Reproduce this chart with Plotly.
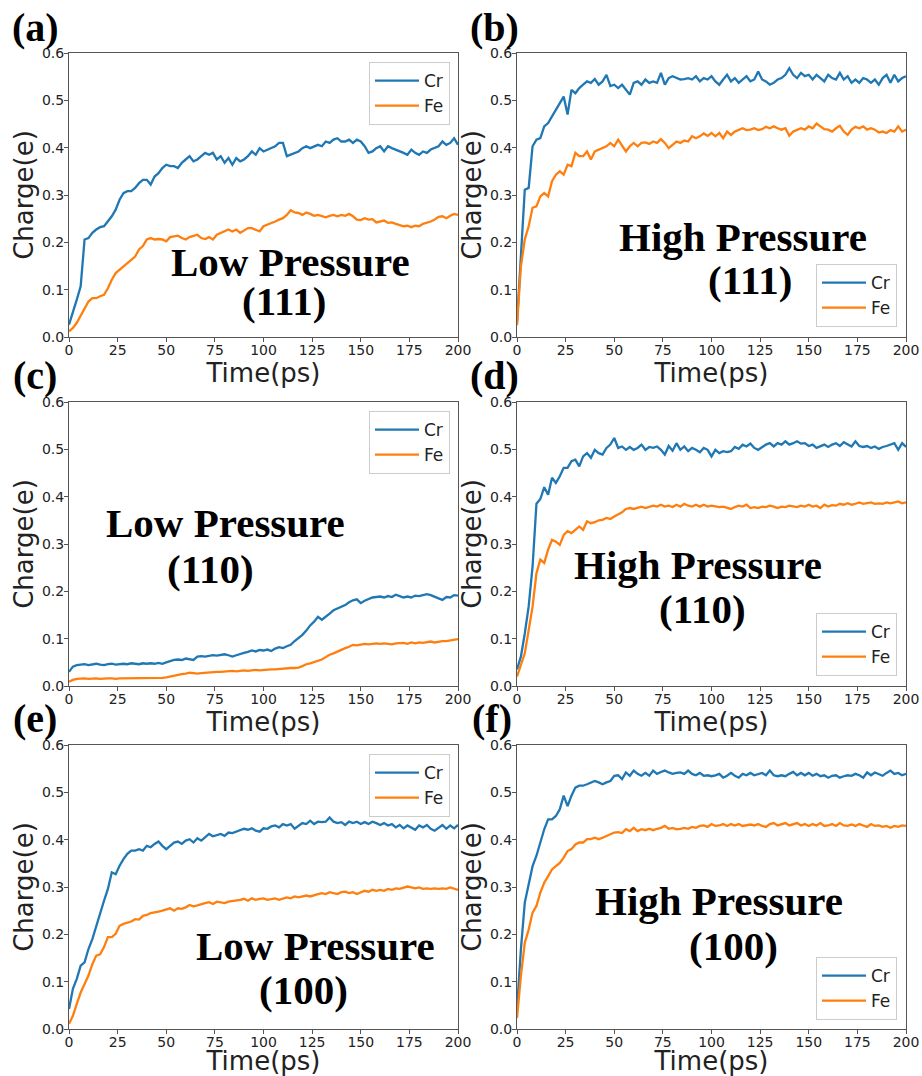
import plotly.graph_objects as go

# ---------------- data ----------------
TIME = [0, 2, 4, 6, 8, 10, 12, 14, 16, 18, 20, 22, 24, 26, 28, 30, 32, 34, 36, 38,
        40, 42, 44, 46, 48, 50, 52, 54, 56, 58, 60, 62, 64, 66, 68, 70, 72, 74, 76, 78,
        80, 82, 84, 86, 88, 90, 92, 94, 96, 98, 100, 102, 104, 106, 108, 110, 112, 114, 116, 118,
        120, 122, 124, 126, 128, 130, 132, 134, 136, 138, 140, 142, 144, 146, 148, 150, 152, 154, 156, 158,
        160, 162, 164, 166, 168, 170, 172, 174, 176, 178, 180, 182, 184, 186, 188, 190, 192, 194, 196, 198,
        200]

CR_A = [0.026, 0.051, 0.079, 0.107, 0.206, 0.209, 0.220, 0.227, 0.232, 0.234,
        0.244, 0.255, 0.269, 0.290, 0.304, 0.308, 0.308, 0.315, 0.325, 0.332,
        0.332, 0.322, 0.339, 0.346, 0.357, 0.364, 0.361, 0.361, 0.357, 0.368,
        0.375, 0.382, 0.371, 0.375, 0.382, 0.389, 0.385, 0.389, 0.375, 0.382,
        0.368, 0.378, 0.364, 0.378, 0.371, 0.375, 0.382, 0.392, 0.385, 0.399,
        0.392, 0.396, 0.399, 0.403, 0.410, 0.410, 0.382, 0.385, 0.389, 0.392,
        0.399, 0.403, 0.399, 0.403, 0.406, 0.403, 0.413, 0.410, 0.417, 0.420,
        0.413, 0.413, 0.417, 0.410, 0.417, 0.413, 0.403, 0.389, 0.392, 0.399,
        0.403, 0.392, 0.403, 0.399, 0.396, 0.392, 0.389, 0.385, 0.396, 0.389,
        0.385, 0.392, 0.389, 0.396, 0.399, 0.403, 0.413, 0.406, 0.410, 0.420,
        0.406]
FE_A = [0.012, 0.019, 0.030, 0.044, 0.061, 0.075, 0.082, 0.082, 0.086, 0.089,
        0.103, 0.121, 0.135, 0.142, 0.149, 0.156, 0.163, 0.170, 0.185, 0.192,
        0.206, 0.209, 0.206, 0.207, 0.206, 0.202, 0.211, 0.213, 0.214, 0.209,
        0.206, 0.211, 0.213, 0.216, 0.209, 0.207, 0.211, 0.206, 0.216, 0.220,
        0.223, 0.227, 0.223, 0.227, 0.220, 0.225, 0.230, 0.230, 0.227, 0.223,
        0.234, 0.237, 0.241, 0.244, 0.248, 0.251, 0.258, 0.268, 0.263, 0.262,
        0.258, 0.263, 0.260, 0.256, 0.258, 0.255, 0.253, 0.256, 0.258, 0.255,
        0.258, 0.256, 0.260, 0.255, 0.248, 0.247, 0.251, 0.248, 0.249, 0.242,
        0.244, 0.246, 0.241, 0.242, 0.239, 0.237, 0.234, 0.235, 0.232, 0.235,
        0.234, 0.239, 0.241, 0.244, 0.248, 0.254, 0.255, 0.251, 0.256, 0.260,
        0.258]

CR_B = [0.030, 0.177, 0.311, 0.315, 0.403, 0.417, 0.420, 0.445, 0.452, 0.466,
        0.480, 0.494, 0.508, 0.470, 0.522, 0.515, 0.526, 0.533, 0.540, 0.537,
        0.545, 0.533, 0.540, 0.554, 0.530, 0.533, 0.526, 0.533, 0.522, 0.512,
        0.537, 0.540, 0.533, 0.544, 0.537, 0.540, 0.537, 0.558, 0.533, 0.547,
        0.551, 0.547, 0.544, 0.545, 0.547, 0.544, 0.551, 0.540, 0.547, 0.544,
        0.551, 0.540, 0.533, 0.544, 0.554, 0.540, 0.547, 0.537, 0.544, 0.551,
        0.540, 0.544, 0.561, 0.544, 0.540, 0.533, 0.537, 0.544, 0.547, 0.554,
        0.568, 0.554, 0.547, 0.558, 0.551, 0.554, 0.544, 0.554, 0.547, 0.540,
        0.554, 0.547, 0.544, 0.558, 0.544, 0.551, 0.537, 0.544, 0.537, 0.547,
        0.544, 0.537, 0.544, 0.533, 0.547, 0.554, 0.537, 0.554, 0.540, 0.547,
        0.551]
FE_B = [0.025, 0.149, 0.206, 0.234, 0.273, 0.276, 0.297, 0.304, 0.297, 0.329,
        0.343, 0.350, 0.343, 0.364, 0.361, 0.389, 0.382, 0.382, 0.392, 0.375,
        0.392, 0.396, 0.399, 0.403, 0.410, 0.403, 0.417, 0.403, 0.392, 0.403,
        0.410, 0.403, 0.410, 0.411, 0.408, 0.413, 0.410, 0.418, 0.410, 0.399,
        0.406, 0.413, 0.410, 0.415, 0.413, 0.424, 0.420, 0.424, 0.430, 0.425,
        0.431, 0.424, 0.431, 0.420, 0.434, 0.427, 0.434, 0.438, 0.441, 0.437,
        0.438, 0.441, 0.437, 0.439, 0.444, 0.441, 0.445, 0.441, 0.438, 0.441,
        0.425, 0.434, 0.438, 0.441, 0.438, 0.445, 0.441, 0.451, 0.445, 0.439,
        0.438, 0.434, 0.441, 0.446, 0.434, 0.427, 0.438, 0.444, 0.441, 0.445,
        0.438, 0.441, 0.438, 0.432, 0.434, 0.431, 0.437, 0.434, 0.445, 0.434,
        0.438]

CR_C = [0.030, 0.041, 0.044, 0.045, 0.046, 0.044, 0.046, 0.047, 0.045, 0.044,
        0.046, 0.047, 0.045, 0.046, 0.047, 0.046, 0.048, 0.047, 0.046, 0.048,
        0.047, 0.048, 0.047, 0.049, 0.047, 0.050, 0.053, 0.055, 0.056, 0.055,
        0.058, 0.057, 0.055, 0.062, 0.063, 0.062, 0.064, 0.065, 0.064, 0.066,
        0.067, 0.065, 0.062, 0.065, 0.068, 0.070, 0.072, 0.075, 0.073, 0.076,
        0.075, 0.077, 0.074, 0.079, 0.082, 0.080, 0.084, 0.087, 0.095, 0.101,
        0.108, 0.117, 0.128, 0.136, 0.146, 0.140, 0.146, 0.153, 0.160, 0.164,
        0.167, 0.171, 0.177, 0.181, 0.183, 0.175, 0.180, 0.184, 0.187, 0.188,
        0.189, 0.187, 0.190, 0.188, 0.193, 0.190, 0.187, 0.189, 0.187, 0.191,
        0.190, 0.192, 0.194, 0.192, 0.188, 0.185, 0.182, 0.188, 0.187, 0.192,
        0.191]
FE_C = [0.009, 0.013, 0.015, 0.016, 0.016, 0.015, 0.016, 0.016, 0.015, 0.016,
        0.016, 0.016, 0.015, 0.016, 0.016, 0.016, 0.017, 0.016, 0.016, 0.016,
        0.016, 0.017, 0.016, 0.017, 0.017, 0.018, 0.020, 0.022, 0.023, 0.025,
        0.026, 0.028, 0.027, 0.026, 0.027, 0.028, 0.028, 0.029, 0.030, 0.030,
        0.031, 0.031, 0.032, 0.031, 0.032, 0.033, 0.032, 0.033, 0.034, 0.033,
        0.034, 0.034, 0.035, 0.035, 0.036, 0.036, 0.037, 0.038, 0.038, 0.039,
        0.042, 0.046, 0.048, 0.051, 0.054, 0.056, 0.061, 0.066, 0.069, 0.073,
        0.076, 0.080, 0.083, 0.087, 0.086, 0.088, 0.089, 0.088, 0.089, 0.090,
        0.089, 0.090, 0.089, 0.088, 0.090, 0.090, 0.091, 0.089, 0.092, 0.090,
        0.092, 0.091, 0.093, 0.094, 0.092, 0.094, 0.095, 0.095, 0.096, 0.097,
        0.099]

CR_D = [0.035, 0.062, 0.111, 0.168, 0.252, 0.385, 0.395, 0.420, 0.404, 0.440,
        0.429, 0.443, 0.461, 0.461, 0.475, 0.478, 0.464, 0.485, 0.492, 0.482,
        0.499, 0.492, 0.489, 0.503, 0.510, 0.524, 0.503, 0.506, 0.499, 0.505,
        0.499, 0.503, 0.510, 0.499, 0.505, 0.503, 0.506, 0.499, 0.489, 0.507,
        0.497, 0.513, 0.499, 0.506, 0.496, 0.503, 0.499, 0.494, 0.503, 0.499,
        0.485, 0.499, 0.492, 0.496, 0.494, 0.496, 0.505, 0.501, 0.510, 0.506,
        0.512, 0.503, 0.499, 0.505, 0.510, 0.513, 0.506, 0.513, 0.510, 0.517,
        0.510, 0.513, 0.517, 0.512, 0.513, 0.507, 0.510, 0.503, 0.507, 0.510,
        0.505, 0.510, 0.513, 0.507, 0.515, 0.510, 0.506, 0.517, 0.507, 0.505,
        0.507, 0.503, 0.506, 0.501, 0.505, 0.507, 0.510, 0.513, 0.499, 0.513,
        0.505]
FE_D = [0.020, 0.044, 0.069, 0.118, 0.168, 0.238, 0.267, 0.260, 0.288, 0.309,
        0.305, 0.298, 0.319, 0.327, 0.323, 0.330, 0.337, 0.330, 0.348, 0.344,
        0.346, 0.350, 0.351, 0.355, 0.353, 0.358, 0.362, 0.367, 0.374, 0.376,
        0.374, 0.376, 0.379, 0.376, 0.378, 0.381, 0.379, 0.383, 0.379, 0.381,
        0.378, 0.383, 0.379, 0.385, 0.381, 0.379, 0.383, 0.379, 0.383, 0.379,
        0.381, 0.379, 0.378, 0.379, 0.376, 0.374, 0.378, 0.381, 0.379, 0.383,
        0.376, 0.378, 0.376, 0.379, 0.378, 0.381, 0.379, 0.376, 0.379, 0.378,
        0.381, 0.379, 0.378, 0.381, 0.379, 0.383, 0.379, 0.381, 0.376, 0.383,
        0.379, 0.382, 0.381, 0.385, 0.383, 0.386, 0.383, 0.385, 0.388, 0.385,
        0.386, 0.388, 0.385, 0.386, 0.385, 0.388, 0.386, 0.388, 0.390, 0.386,
        0.388]

CR_E = [0.042, 0.085, 0.106, 0.134, 0.141, 0.169, 0.190, 0.218, 0.246, 0.271,
        0.296, 0.331, 0.327, 0.345, 0.359, 0.370, 0.377, 0.377, 0.380, 0.377,
        0.387, 0.384, 0.391, 0.396, 0.387, 0.380, 0.387, 0.394, 0.396, 0.391,
        0.398, 0.401, 0.394, 0.403, 0.398, 0.405, 0.412, 0.407, 0.410, 0.412,
        0.408, 0.415, 0.414, 0.417, 0.419, 0.423, 0.421, 0.424, 0.419, 0.417,
        0.424, 0.423, 0.428, 0.430, 0.426, 0.433, 0.430, 0.433, 0.423, 0.430,
        0.435, 0.433, 0.440, 0.433, 0.438, 0.437, 0.438, 0.447, 0.438, 0.435,
        0.437, 0.431, 0.438, 0.435, 0.438, 0.433, 0.437, 0.433, 0.438, 0.435,
        0.431, 0.435, 0.430, 0.433, 0.426, 0.431, 0.424, 0.430, 0.426, 0.421,
        0.430, 0.426, 0.431, 0.423, 0.419, 0.426, 0.431, 0.423, 0.430, 0.424,
        0.431]
FE_E = [0.011, 0.028, 0.053, 0.077, 0.095, 0.113, 0.137, 0.155, 0.158, 0.173,
        0.194, 0.194, 0.201, 0.218, 0.222, 0.225, 0.227, 0.232, 0.231, 0.239,
        0.241, 0.245, 0.246, 0.248, 0.250, 0.252, 0.255, 0.250, 0.255, 0.254,
        0.257, 0.262, 0.259, 0.261, 0.264, 0.266, 0.268, 0.264, 0.269, 0.268,
        0.266, 0.269, 0.270, 0.271, 0.273, 0.275, 0.271, 0.276, 0.273, 0.275,
        0.276, 0.273, 0.275, 0.276, 0.273, 0.275, 0.278, 0.276, 0.280, 0.278,
        0.280, 0.282, 0.280, 0.283, 0.285, 0.287, 0.285, 0.289, 0.287, 0.285,
        0.289, 0.290, 0.287, 0.289, 0.285, 0.289, 0.292, 0.290, 0.294, 0.292,
        0.294, 0.292, 0.296, 0.294, 0.297, 0.296, 0.299, 0.301, 0.299, 0.297,
        0.299, 0.296, 0.297, 0.296, 0.297, 0.296, 0.297, 0.296, 0.299, 0.296,
        0.294]

CR_F = [0.040, 0.168, 0.267, 0.309, 0.344, 0.366, 0.394, 0.422, 0.443, 0.443,
        0.450, 0.464, 0.493, 0.471, 0.493, 0.510, 0.514, 0.514, 0.517, 0.521,
        0.524, 0.521, 0.517, 0.521, 0.524, 0.535, 0.536, 0.528, 0.542, 0.535,
        0.546, 0.539, 0.535, 0.541, 0.535, 0.546, 0.539, 0.543, 0.546, 0.542,
        0.539, 0.541, 0.542, 0.539, 0.546, 0.539, 0.536, 0.541, 0.535, 0.536,
        0.534, 0.536, 0.539, 0.531, 0.535, 0.541, 0.535, 0.531, 0.539, 0.536,
        0.541, 0.536, 0.539, 0.541, 0.536, 0.546, 0.536, 0.534, 0.536, 0.534,
        0.539, 0.543, 0.536, 0.541, 0.536, 0.541, 0.535, 0.539, 0.534, 0.536,
        0.531, 0.535, 0.536, 0.531, 0.534, 0.536, 0.535, 0.539, 0.536, 0.531,
        0.542, 0.536, 0.542, 0.539, 0.535, 0.541, 0.546, 0.539, 0.541, 0.536,
        0.539]
FE_F = [0.023, 0.112, 0.182, 0.210, 0.246, 0.260, 0.288, 0.309, 0.323, 0.337,
        0.344, 0.351, 0.362, 0.376, 0.380, 0.390, 0.394, 0.394, 0.401, 0.401,
        0.404, 0.401, 0.404, 0.408, 0.411, 0.415, 0.416, 0.414, 0.422, 0.418,
        0.425, 0.418, 0.422, 0.420, 0.423, 0.420, 0.423, 0.425, 0.429, 0.423,
        0.425, 0.422, 0.423, 0.425, 0.423, 0.427, 0.425, 0.429, 0.430, 0.427,
        0.433, 0.429, 0.430, 0.433, 0.429, 0.433, 0.430, 0.433, 0.429, 0.430,
        0.432, 0.430, 0.433, 0.429, 0.427, 0.433, 0.435, 0.430, 0.433, 0.435,
        0.430, 0.433, 0.435, 0.430, 0.433, 0.429, 0.433, 0.430, 0.435, 0.429,
        0.430, 0.433, 0.429, 0.435, 0.430, 0.429, 0.432, 0.429, 0.433, 0.430,
        0.427, 0.433, 0.429, 0.430, 0.427, 0.429, 0.425, 0.429, 0.427, 0.430,
        0.429]

PANEL_LABELS = ["(a)", "(b)", "(c)", "(d)", "(e)", "(f)"]
PRESSURE = ["Low Pressure", "High Pressure", "Low Pressure", "High Pressure", "Low Pressure", "High Pressure"]
FACETS = ["(111)", "(111)", "(110)", "(110)", "(100)", "(100)"]
SERIES = [(CR_A, FE_A), (CR_B, FE_B), (CR_C, FE_C), (CR_D, FE_D), (CR_E, FE_E), (CR_F, FE_F)]
X_TICKS = [0, 25, 50, 75, 100, 125, 150, 175, 200]
Y_TICKS = [0.0, 0.1, 0.2, 0.3, 0.4, 0.5, 0.6]
Y_TICKTEXT = ["0.0", "0.1", "0.2", "0.3", "0.4", "0.5", "0.6"]

# ---------------- layout geometry (pixels) ----------------
W, H = 922, 1076
COLS = [(69, 458), (517, 906)]
ROWS = [(53, 337), (402, 686), (745, 1029)]

def px(x):
    return x / W

def py(y):
    return 1 - y / H

BLUE = "#1f77b4"
ORANGE = "#ff7f0e"
AXC = "#555555"
TXT = "#222222"

# label/annotation centers (pixels)
LABEL_POS = [(35, 28), (494, 28), (35, 375), (494, 375), (35, 718), (492, 718)]
LINE1_POS = [(290, 262), (743, 237), (225, 523), (698, 565), (315, 946), (719, 901)]
LINE2_POS = [(284, 301), (750, 280), (210, 569), (702, 609), (303, 990), (733, 946)]
# legend anchors: (right x, y, anchor)
LEG_POS = [(450, 62, "top"), (897, 327, "bottom"), (450, 411, "top"),
           (897, 676, "bottom"), (450, 754, "top"), (897, 1020, "bottom")]

fig = go.Figure()
layout = dict(width=W, height=H, margin=dict(l=0, r=0, t=0, b=0, autoexpand=False),
              paper_bgcolor="white", plot_bgcolor="white",
              font=dict(family="DejaVu Sans", color=TXT))
annotations = []

for i in range(6):
    r, c = divmod(i, 2)
    n = i + 1
    xs = "" if n == 1 else str(n)
    xa, ya = "x" + xs, "y" + xs
    leg = "legend" + ("" if n == 1 else str(n))
    cr, fe = SERIES[i]
    fig.add_trace(go.Scatter(x=TIME, y=cr, mode="lines", name="Cr", xaxis=xa, yaxis=ya,
                             line=dict(color=BLUE, width=2.3), legend=leg))
    fig.add_trace(go.Scatter(x=TIME, y=fe, mode="lines", name="Fe", xaxis=xa, yaxis=ya,
                             line=dict(color=ORANGE, width=2.3), legend=leg))
    x0, x1 = COLS[c]
    y0, y1 = ROWS[r]
    common = dict(showline=True, mirror=True, linecolor=AXC, linewidth=1,
                  ticks="outside", ticklen=4, tickwidth=1, tickcolor=AXC,
                  showgrid=False, zeroline=False, automargin=False,
                  tickfont=dict(size=14, family="DejaVu Sans", color=TXT))
    layout["xaxis" + xs] = dict(common, domain=[px(x0), px(x1)], anchor=ya,
                                range=[0, 200], tickvals=X_TICKS, ticklabelstandoff=-4,
                                title=dict(text="Time(ps)", standoff=1,
                                           font=dict(size=26, family="DejaVu Sans", color=TXT)))
    layout["yaxis" + xs] = dict(common, domain=[py(y1), py(y0)], anchor=xa,
                                range=[0, 0.6], tickvals=Y_TICKS, ticktext=Y_TICKTEXT,
                                ticklabelstandoff=-3,
                                title=dict(text="Charge(e)", standoff=0,
                                           font=dict(size=26, family="DejaVu Sans", color=TXT)))
    lx, ly, anc = LEG_POS[i]
    layout[leg] = dict(x=px(lx), y=py(ly), xanchor="right", yanchor=anc,
                       bgcolor="white", bordercolor="#cccccc", borderwidth=1,
                       font=dict(size=17, family="DejaVu Sans", color=TXT),
                       itemwidth=44, tracegroupgap=0)
    serif = dict(family="Liberation Serif", size=41, color="black")
    annotations.append(dict(text="<b>%s</b>" % PANEL_LABELS[i], xref="paper", yref="paper",
                            x=px(LABEL_POS[i][0]), y=py(LABEL_POS[i][1]),
                            xanchor="center", yanchor="middle", showarrow=False,
                            font=dict(serif, size=40)))
    annotations.append(dict(text="<b>%s</b>" % PRESSURE[i], xref="paper", yref="paper",
                            x=px(LINE1_POS[i][0]), y=py(LINE1_POS[i][1]),
                            xanchor="center", yanchor="middle", showarrow=False, font=serif))
    annotations.append(dict(text="<b>%s</b>" % FACETS[i], xref="paper", yref="paper",
                            x=px(LINE2_POS[i][0]), y=py(LINE2_POS[i][1]),
                            xanchor="center", yanchor="middle", showarrow=False, font=serif))

layout["annotations"] = annotations
fig.update_layout(**layout)
fig.write_html("out.html", config={"displayModeBar": False},
               post_script="document.body.style.margin='0';document.body.style.overflow='hidden';")
